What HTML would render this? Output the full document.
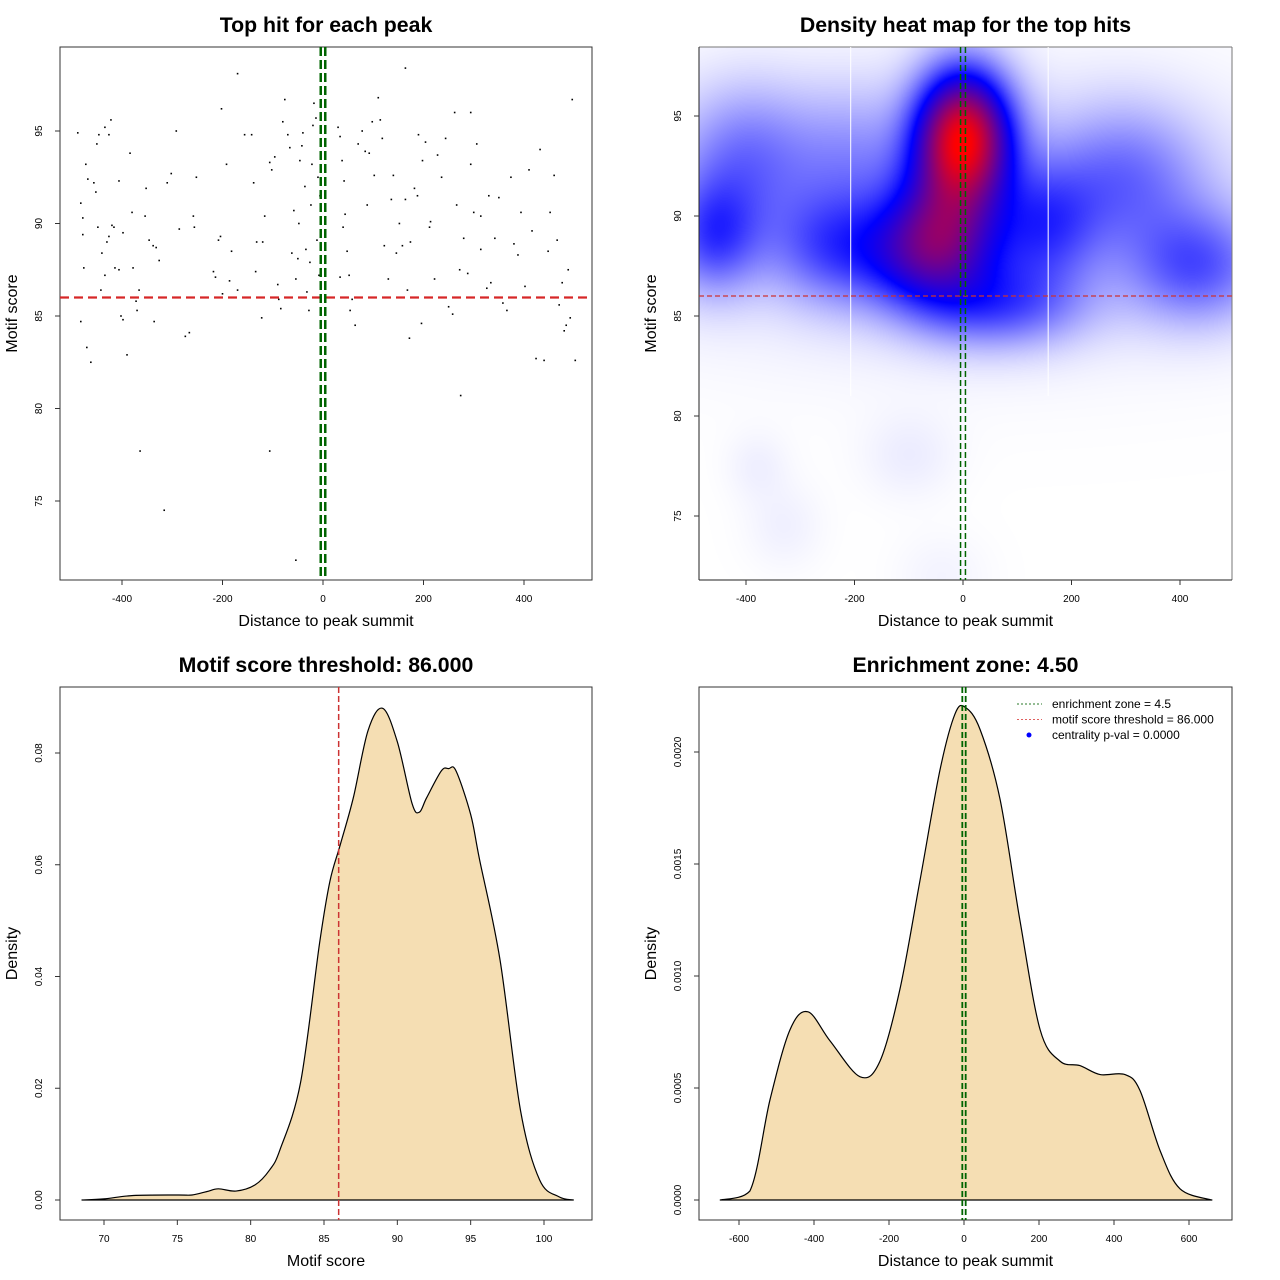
<!DOCTYPE html>
<html><head><meta charset="utf-8"><style>
body{margin:0;background:#fff;width:1280px;height:1280px;overflow:hidden;position:relative;font-family:"Liberation Sans",sans-serif}
#heat{position:absolute;left:699px;top:47px}
#svg{position:absolute;left:0;top:0}
text{font-family:"Liberation Sans",sans-serif}
</style></head><body>
<canvas id="heat" width="533" height="533"></canvas>
<svg id="svg" width="1280" height="1280" xmlns="http://www.w3.org/2000/svg"></svg>
<script>
// ---------- data ----------
const scatterDist=[-488,-482,-478,-478,-476,-482,-470,-462,-472,-468,-456,-452,-448,-440,-442,-450,-434,-446,-426,-422,-434,-426,-430,-420,-416,-414,-406,-402,-398,-406,-398,-390,-384,-380,-378,-372,-370,-366,-364,-352,-354,-346,-338,-336,-332,-326,-316,-310,-302,-292,-286,-274,-266,-258,-256,-252,-218,-214,-208,-204,-200,-186,-182,-174,-170,-156,-142,-134,-132,-138,-122,-120,-116,-106,-106,-102,-96,-90,-88,-84,-80,-76,-70,-66,-62,-58,-54,-50,-48,-46,-42,-40,-36,-34,-32,-28,-26,-24,-22,-18,-14,-12,-10,-8,-6,-20,-54,30,34,38,42,44,48,52,54,58,64,34,40,70,78,84,88,92,98,102,110,114,118,122,130,136,140,146,152,158,164,168,172,174,182,188,190,196,198,204,212,222,228,236,244,250,258,266,272,280,288,294,300,306,314,326,334,342,350,358,366,374,380,388,394,402,410,416,424,432,440,448,452,460,466,470,476,480,484,488,492,496,502,262,294,-170,164,-202,-192,330,274,214,314];
const scatterScore=[94.9,91.1,90.3,89.4,87.6,84.7,83.3,82.5,93.2,92.4,92.2,91.7,89.8,88.4,86.4,94.3,87.2,94.8,94.8,95.6,95.2,89.3,89.0,89.9,89.8,87.6,87.5,85.0,84.8,92.3,89.5,82.9,93.8,90.6,87.6,85.8,85.3,86.4,77.7,91.9,90.4,89.1,88.8,84.7,88.7,88.0,74.5,92.2,92.7,95.0,89.7,83.9,84.1,90.4,89.8,92.5,87.4,87.1,89.1,89.3,86.2,86.9,88.5,86.0,86.4,94.8,94.8,87.4,89.0,92.2,84.9,89.0,90.4,77.7,93.3,92.9,93.6,86.7,85.9,85.4,95.5,96.7,94.8,94.1,88.4,90.7,87.0,88.1,90.0,93.4,94.2,94.9,92.0,88.6,86.3,85.3,87.9,91.0,93.2,96.5,95.7,89.1,92.5,87.2,91.5,95.3,71.8,95.2,94.7,93.4,92.3,90.5,88.5,87.2,85.3,85.9,84.5,87.1,89.8,94.3,95.0,93.9,91.0,93.8,95.5,92.6,96.8,95.6,94.6,88.8,87.0,91.3,92.6,88.4,90.0,88.8,91.3,86.4,83.8,89.0,91.9,91.5,94.8,84.6,93.4,94.4,89.8,87.0,93.7,92.5,94.6,85.5,85.1,91.0,87.5,89.2,87.3,93.2,90.6,94.3,88.6,86.5,86.8,89.2,91.4,85.7,85.3,92.5,88.9,88.3,90.6,86.6,92.9,89.6,82.7,94.0,82.6,88.5,90.6,92.6,89.1,85.6,86.8,84.2,84.5,87.5,84.9,96.7,82.6,96.0,96.0,98.1,98.4,96.2,93.2,91.5,80.7,90.1,90.4];
// heatmap blobs: centre distance, centre score, sd distance, sd score, weight
const blobDist=[0,-40,-80,-460,-400,430,300,150,-250,60,-100,-330,-380,-40,-200,0];
const blobScore=[94,89.5,88,89,93,87.5,92,89.5,88.5,85.5,78,74.5,77.5,72,93,90];
const blobSdD=[60,70,90,60,90,90,100,70,80,110,60,50,40,60,80,450];
const blobSdS=[2.3,2.2,1.8,2.0,2.5,2.0,2.5,2.2,2.0,1.5,1.5,1.5,1.2,1.5,2.5,4.5];
const blobW=[1.0,0.42,0.3,0.28,0.2,0.26,0.2,0.25,0.22,0.25,0.03,0.025,0.025,0.02,0.12,0.08];
// density of motif scores
const d3x=[68.5,70,72,75,76,77,77.8,79,80.3,81.3,82,83.4,84.7,85.4,86.1,87,88,89,90,91,91.5,92,93,93.5,94,95,95.6,97,98.4,99.7,101,102];
const d3y=[0,0.0002,0.0008,0.0009,0.0009,0.0015,0.002,0.0016,0.0027,0.0054,0.009,0.021,0.046,0.057,0.0635,0.072,0.084,0.088,0.082,0.071,0.0694,0.072,0.0768,0.0772,0.0768,0.069,0.061,0.043,0.016,0.0036,0.0006,0];
// density of distances
const d4x=[-650,-571,-517,-464,-416,-357,-277,-224,-171,-117,-64,-24,3,43,96,149,203,256,309,363,429,469,523,576,661];
const d4y=[0,0.00004,0.00045,0.00076,0.00084,0.00071,0.00055,0.00062,0.00094,0.00143,0.00192,0.00217,0.0022,0.0021,0.00179,0.00125,0.00076,0.00062,0.0006,0.00056,0.00056,0.00049,0.00022,0.00005,0];
const t1x=[-400,-200,0,200,400], t1y=[75,80,85,90,95];
const t3x=[70,75,80,85,90,95,100], t3y=[0,0.02,0.04,0.06,0.08], t3yl=["0.00","0.02","0.04","0.06","0.08"];
const t4x=[-600,-400,-200,0,200,400,600], t4y=[0,0.0005,0.001,0.0015,0.002], t4yl=["0.0000","0.0005","0.0010","0.0015","0.0020"];
const threshold=86, zone=4.5;

// ---------- helpers ----------
const svg=document.getElementById('svg'), NS='http://www.w3.org/2000/svg';
function el(tag,attrs,parent,txt){const e=document.createElementNS(NS,tag);for(const k in attrs)e.setAttribute(k,attrs[k]);if(txt!==undefined)e.textContent=txt;(parent||svg).appendChild(e);return e;}
function lin(d0,d1,r0,r1){return v=>r0+(v-d0)*(r1-r0)/(d1-d0);}
function smoothPath(pts){let p='M'+pts[0][0]+','+pts[0][1];
 for(let i=0;i<pts.length-1;i++){const p0=pts[Math.max(0,i-1)],p1=pts[i],p2=pts[i+1],p3=pts[Math.min(pts.length-1,i+2)];
  const c1x=p1[0]+(p2[0]-p0[0])/6,c1y=Math.min(pts[pts.length-1][1],p1[1]+(p2[1]-p0[1])/6),c2x=p2[0]-(p3[0]-p1[0])/6,c2y=Math.min(pts[pts.length-1][1],p2[1]-(p3[1]-p1[1])/6);
  p+=` C${c1x},${c1y} ${c2x},${c2y} ${p2[0]},${p2[1]}`;}
 return p+' Z';}
function panel(name,L,T,R,B,xs,ys,xt,yt,ytl,title,xlab,ylab,box){
  const g=el('g',{},svg);
  if(box){const b=el('rect',{x:L,y:T,width:R-L,height:B-T,fill:'none',stroke:'#333','stroke-width':1},g);}
  else{el('line',{x1:L,y1:T,x2:R,y2:T,stroke:'#777'},g);el('line',{x1:R,y1:T,x2:R,y2:B,stroke:'#777'},g);el('line',{x1:L,y1:T,x2:L,y2:B,stroke:'#222'},g);el('line',{x1:L,y1:B,x2:R,y2:B,stroke:'#222'},g);}
  const xa=el('g',{},g);
  xt.forEach(v=>{const x=xs(v);el('line',{x1:x,y1:B,x2:x,y2:B+5,stroke:'#333'},xa);const t=el('text',{x:x,y:B+22,'font-size':10,'text-anchor':'middle'},xa,String(v));});
  const ya=el('g',{},g);
  yt.forEach((v,i)=>{const y=ys(v);el('line',{x1:L-5,y1:y,x2:L,y2:y,stroke:'#333'},ya);const t=el('text',{x:L-18,y:y,'font-size':10,'text-anchor':'middle',transform:`rotate(-90 ${L-18} ${y})`},ya,ytl?ytl[i]:String(v));});
  const tt=el('text',{x:(L+R)/2,y:T-15,'font-size':21.3,'font-weight':'bold','text-anchor':'middle'},g,title);
  const xl=el('text',{x:(L+R)/2,y:B+46,'font-size':16,'text-anchor':'middle'},g,xlab);
  const cx=L-43,cy=(T+B)/2;const yl=el('text',{x:cx,y:cy,'font-size':16,'text-anchor':'middle',transform:`rotate(-90 ${cx} ${cy})`},g,ylab);
  return g;
}
function vline(g,x,T,B,color,w,dash,name){const l=el('line',{x1:x,y1:T,x2:x,y2:B,stroke:color,'stroke-width':w,'stroke-dasharray':dash},g);}
function hline(g,y,L,R,color,w,dash,name){const l=el('line',{x1:L,y1:y,x2:R,y2:y,stroke:color,'stroke-width':w,'stroke-dasharray':dash},g);}

// ---------- panel 1: scatter ----------
{const L=60,T=47,R=592,B=580;const xs=lin(0,400,323,524),ys=lin(95,75,131,501);
const g=panel('scatter-panel',L,T,R,B,xs,ys,t1x,t1y,null,'Top hit for each peak','Distance to peak summit','Motif score',true);
scatterDist.forEach((d,i)=>{const c=el('rect',{x:xs(d)-0.8,y:ys(scatterScore[i])-0.8,width:1.6,height:1.6,fill:'#000'},g);});
hline(g,ys(threshold),L,R,'#d62728',2.2,'9,5','threshold-line');
vline(g,xs(-zone),T,B,'#006400',2.5,'9,4','zone-line-left');vline(g,xs(zone),T,B,'#006400',2.5,'9,4','zone-line-right');}

// ---------- panel 2: heatmap ----------
{const L=699,T=47,R=1232,B=580;const xs=lin(0,400,963,1180),ys=lin(95,75,116,516);
const cv=document.getElementById('heat'),ctx=cv.getContext('2d'),img=ctx.createImageData(533,533);
const xinv=lin(963,1180,0,400),yinv=lin(116,516,95,75);
for(let py=0;py<533;py++){const s=yinv(py+T);for(let px=0;px<533;px++){const d=xinv(px+L);let v=0;
 for(let k=0;k<blobW.length;k++){const a=(d-blobDist[k])/blobSdD[k],b=(s-blobScore[k])/blobSdS[k];v+=blobW[k]*Math.exp(-0.5*(a*a+b*b));}
 let t=Math.min(1,v/1.1),r,gg,bb;
 if(t<0.4){const u=t/0.4;r=255*(1-u);gg=255*(1-u);bb=255;}else{const u=(t-0.4)/0.6;r=255*u;gg=0;bb=255*(1-u);}
 const o=(py*533+px)*4;img.data[o]=r;img.data[o+1]=gg;img.data[o+2]=bb;img.data[o+3]=255;}}
ctx.putImageData(img,0,0);
const g=panel('heatmap-panel',L,T,R,B,xs,ys,t1x,t1y,null,'Density heat map for the top hits','Distance to peak summit','Motif score',false);
vline(g,xs(-207),T,ys(81),'#fff',1,'none','tile-seam');vline(g,xs(157),T,ys(81),'#fff',1,'none','tile-seam');
hline(g,ys(threshold),L,R,'#cc3333',1.2,'5,3','threshold-line');
vline(g,xs(-zone),T,B,'#006400',1.5,'6,3','zone-line-left');vline(g,xs(zone),T,B,'#006400',1.5,'6,3','zone-line-right');}

// ---------- panel 3: score density ----------
{const L=60,T=687,R=592,B=1220;const xs=lin(70,100,104,544),ys=lin(0,0.08,1200,753);
const g=panel('score-density-panel',L,T,R,B,xs,ys,t3x,t3y,t3yl,'Motif score threshold: 86.000','Motif score','Density',true);
const a=el('path',{d:smoothPath(d3x.map((x,i)=>[xs(x),ys(d3y[i])])),fill:'#f5deb3',stroke:'#000','stroke-width':1.2,'stroke-linejoin':'round'},g);
vline(g,xs(threshold),T,B,'#cc3333',1.5,'6,3','threshold-line');}

// ---------- panel 4: distance density ----------
{const L=699,T=687,R=1232,B=1220;const xs=lin(-600,600,739,1189),ys=lin(0,0.002,1200,752);
const g=panel('distance-density-panel',L,T,R,B,xs,ys,t4x,t4y,t4yl,'Enrichment zone: 4.50','Distance to peak summit','Density',true);
const a=el('path',{d:smoothPath(d4x.map((x,i)=>[xs(x),ys(d4y[i])])),fill:'#f5deb3',stroke:'#000','stroke-width':1.2,'stroke-linejoin':'round'},g);
vline(g,xs(-zone),T,B,'#006400',1.8,'6,3','zone-line-left');vline(g,xs(zone),T,B,'#006400',1.8,'6,3','zone-line-right');
const lg=el('g',{},g);
const items=[['enrichment zone = 4.5','#2a7a2a','line'],['motif score threshold = 86.000','#e06060','line'],['centrality p-val = 0.0000','#0000ff','dot']];
items.forEach((it,i)=>{const y=704+i*15.5;const e=el('g',{},lg);
 if(it[2]==='line')el('line',{x1:1017,y1:y,x2:1042,y2:y,stroke:it[1],'stroke-width':1,'stroke-dasharray':'2,2'},e);else el('circle',{cx:1029,cy:y,r:2.5,fill:it[1]},e);
 el('text',{x:1052,y:y+4,'font-size':12},e,it[0]);});}
</script>
</body></html>
